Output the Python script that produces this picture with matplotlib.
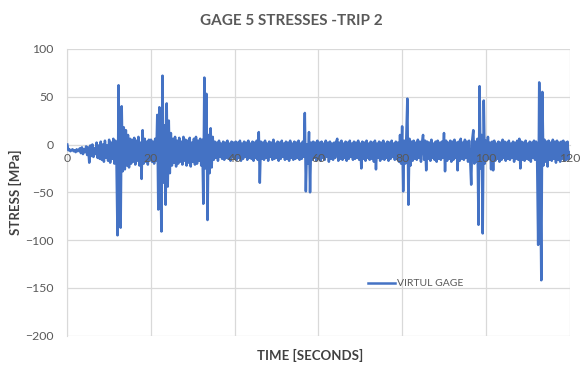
import matplotlib
matplotlib.use("Agg")
import matplotlib.pyplot as plt
import numpy as np

# Gauge 5 stress record, one reading every 0.25 s, split into 20-second blocks
stress_000_020 = [0, -6, -5, -7, -6, -5, -7, -6, -8, -5, -7, -6,
                  -4, -9, -3, -10, -5, -8, -2, -11,
                  -3, -19, -1, -12, 0, -13, -4, -10, 2, -14, -1, -15,
                  3, -16, 0, -18, 4, -14, -1, -17, 5, -19, 2, -15, 6, -20, 4, -16,
                  -95, 62, -30, -87, 40, -28, 18, -26, 15, -22, 10, -24,
                  6, -20, 5, -18, 7, -21, 4, -17, 8, -22,
                  2, -36, 15, -20, 6, -18, 3, -21, 5, -16]
stress_020_040 = [5, -18, 3, -20, 6, -17, 31, -68,
                  39, -30, -91, 72, -40, 20, -63, 43, -44, 25, -30, 12,
                  -22, 6, -19, 8, -23, 4, -20, 7, -18, 3, -21, 8, -17, 5, -22,
                  4, -19, 7, -23, 2, -18, 6, -21, 8, -20, 4, -17, 6, -22, 5,
                  -62, 70, -25, 53, -79, 10, -30, 17, -24, 8,
                  -16, 3, -14, 2, -17, 4, -13, 1, -15, 3, -16, 2, -14, 4, -15,
                  1, -17, 3, -13, 2]
stress_040_060 = [-15, 3, -16, 2, -14, 4, -17, 1, -15, 3, -13, 2, -16, 4, -14,
                  1, -15, 3, -17, 2, -14, 4, -16,
                  13, -40,
                  3, -15, 2, -16, 4, -14, 1, -17, 3, -13, 2, -16, 5, -15, 1,
                  -14, 3, -17, 2, -15, 4, -13, 1, -16, 3, -15, 2, -17, 4, -14,
                  1, -16, 3, -15, 2, -14, 4, -16, 1, -15, 3, -13,
                  33, -49, 0, -20, 13, -50, 2,
                  -16, 3, -14, 2, -17, 4]
stress_060_080 = [-15, 2, -17, 3, -14, 1, -16, 4, -13, 2, -18, 3, -15, 1, -16,
                  2, -14, 3, 6, -17,
                  2, -15, 4, -16, 1, -14, 3, -17, 2, -15, 4, -13, 1, -16, 3,
                  -15, 2, -14, 4, -16,
                  1, -25, 3, -15, 2, -17, 4, -14, 1, -16, 3, -15, 2, -18, 4,
                  -26, 1, -14, 3, -17,
                  2, -15, 4, -16, 1, -14, 3, -17, 2, -15, 4, -13, 1, -16, 3,
                  -15, 2, -18, 10, -20]
stress_080_100 = [19, -49, 4, -20, 8, 48, -63, 6, -22, 3,
                  -17, 4, -15, 2, -16, 5, -14, 3, -18, 2,
                  10, -16, 4, -27,
                  3, -15, 2, -17, 5, -14, 1, -16, 3, -18, 4, -15, 2, -16, 3, -14,
                  12, -28, 4, -17,
                  2, -15, 4, -18, 3, -16, 5, -14, 2, -27, 3, -17, 6, -15, 2,
                  -16, 5, -14, 3, -18, 4, -15,
                  -42, 5, 15, -20, 3, -18, 6, -84, 61, -25, 10, -93, 46, -20]
stress_100_120 = [4, -16, 8, -15,
                  2, -26, 3, -27, 4, -17,
                  1, -15, 3, -18, 2, -16, 5, -14, 3, -17, 2, -15, 4, -16, 1,
                  -14, 3, -18, 2, -15, 4, -16,
                  6, -25, 3, -16,
                  2, -17, 4, -15, 1, -16, 3, -18, 2, -14, 4, -16, 3, -15,
                  -105, 65, -30, -142, 55, -22, 5,
                  -18, 3, -23, 4, -16, 2, -17, 5, -15, 3, -19, 4, -16, 2, -18,
                  3, -15, 4, -17, 2, -16, 3, -15, -8]
sample_step = 0.25  # seconds between readings

x_ticks = [0, 20, 40, 60, 80, 100, 120]
y_ticks = [-200, -150, -100, -50, 0, 50, 100]

stress = np.array(stress_000_020 + stress_020_040 + stress_040_060
                  + stress_060_080 + stress_080_100 + stress_100_120, dtype=float)
time = np.arange(len(stress)) * sample_step

plt.rcParams["font.family"] = ["Lato", "DejaVu Sans"]
TXT = "#595959"
GRID = "#D9D9D9"

fig = plt.figure(figsize=(5.8, 3.72), dpi=100)
pos = [0.116, 0.0976, 0.866, 0.7709]

ax = fig.add_axes(pos)
ax.plot(time, stress, color="#4472C4", lw=1.8, label="VIRTUL GAGE", zorder=3)
ax.set_xlim(0, 120)
ax.set_ylim(-200, 100)
ax.set_xticks(x_ticks)
ax.set_yticks(y_ticks)
ax.grid(True, color=GRID, lw=0.9)
ax.set_axisbelow(True)
for s in ["top", "right"]:
    ax.spines[s].set_visible(False)
ax.spines["left"].set_color(GRID)
ax.spines["bottom"].set_position(("data", 0))
ax.spines["bottom"].set_color(GRID)
ax.tick_params(axis="both", length=0)
ax.tick_params(axis="y", labelcolor=TXT, labelsize=8.8, pad=10)
ax.tick_params(axis="x", labelbottom=False)

# transparent overlay so the time labels sit on top of the trace
ax_lab = fig.add_axes(pos, sharex=ax, sharey=ax)
ax_lab.patch.set_visible(False)
for s in ["top", "right", "left", "bottom"]:
    ax_lab.spines[s].set_visible(False)
ax_lab.spines["bottom"].set_position(("data", 0))
ax_lab.tick_params(axis="x", length=0, labelcolor=TXT, labelsize=8.8, pad=6)
ax_lab.tick_params(axis="y", left=False, labelleft=False)
ax_lab.grid(False)

fig.text(0.503, 0.944, "GAGE 5 STRESSES -TRIP 2", ha="center", va="center",
         fontsize=11, fontweight="bold", color=TXT)
fig.text(0.534, 0.045, "TIME [SECONDS]", ha="center", va="center",
         fontsize=9.5, fontweight="bold", color="#404040")
fig.text(0.027, 0.484, "STRESS [MPa]", ha="center", va="center", rotation=90,
         fontsize=9.5, fontweight="bold", color="#404040")

leg = ax.legend(loc="center left", bbox_to_anchor=(368 / 580, 1 - 283.5 / 372),
                bbox_transform=fig.transFigure, frameon=False, fontsize=7.5,
                handlelength=2.6, handletextpad=0.2, borderpad=0, borderaxespad=0)
for t in leg.get_texts():
    t.set_color(TXT)

fig.savefig("out.png", dpi=100)
